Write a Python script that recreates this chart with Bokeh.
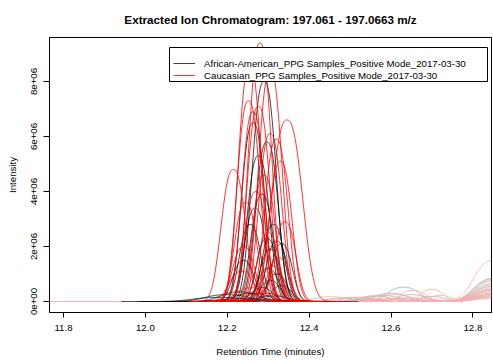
import numpy as np
from bokeh.plotting import figure
from bokeh.models import Range1d, FixedTicker, Legend, LegendItem
from bokeh.embed import file_html
from bokeh.resources import INLINE

# ---------------- data ----------------
title_text = "Extracted Ion Chromatogram: 197.061 - 197.0663 m/z"
x_label = "Retention Time (minutes)"
y_label = "Intensity"
group_labels = ["African-American_PPG Samples_Positive Mode_2017-03-30",
                "Caucasian_PPG Samples_Positive Mode_2017-03-30"]

x_ticks = [11.8, 12.0, 12.2, 12.4, 12.6, 12.8]
x_tick_labels = ["11.8", "12.0", "12.2", "12.4", "12.6", "12.8"]
y_ticks = [0, 2e6, 4e6, 6e6, 8e6]
y_tick_labels = ["0e+00", "2e+06", "4e+06", "6e+06", "8e+06"]

rt_window = [11.7658, 12.8454]          # minutes
intensity_window = [-0.4e6, 9.6e6]

# African-American samples: main peak apex (min), height (1e6), width (min)
aa_rt = [12.290, 12.263, 12.297, 12.276, 12.285, 12.256, 12.313, 12.297, 12.321, 12.333,
         12.305, 12.321, 12.305, 12.285, 12.333, 12.268, 12.240, 12.300, 12.230, 12.200,
         12.260, 12.180, 12.310, 12.250]
aa_height = [8.0, 6.5, 5.8, 5.3, 3.9, 2.8, 2.8, 2.3, 2.2, 2.1,
             1.9, 1.0, 0.76, 0.5, 0.58, 3.4, 1.5, 1.2, 0.35, 0.25,
             0.30, 0.15, 0.20, 0.10]
aa_width = [0.038, 0.036, 0.036, 0.035, 0.035, 0.034, 0.034, 0.033, 0.033, 0.033,
            0.032, 0.032, 0.032, 0.035, 0.032, 0.034, 0.034, 0.033, 0.060, 0.070,
            0.055, 0.080, 0.050, 0.090]

# Caucasian samples: main peak apex (min), height (1e6), width (min)
c_rt = [12.280, 12.255, 12.305, 12.252, 12.276, 12.263, 12.305, 12.346, 12.215, 12.320,
        12.330, 12.290, 12.270, 12.341, 12.300, 12.245, 12.325, 12.235, 12.260, 12.290,
        12.240, 12.310]
c_height = [9.4, 8.6, 8.4, 7.3, 7.1, 6.9, 6.1, 6.6, 4.8, 5.9,
            5.1, 4.6, 4.0, 2.9, 2.5, 3.6, 1.6, 1.1, 0.5, 0.3,
            2.0, 1.3]
c_width = [0.036, 0.036, 0.037, 0.036, 0.036, 0.035, 0.036, 0.048, 0.038, 0.036,
           0.036, 0.035, 0.035, 0.034, 0.034, 0.035, 0.034, 0.040, 0.050, 0.060,
           0.035, 0.034]

# late, low-level signal (drawn light): bump apex, bump height (1e6), bump width, height at window end (1e6)
aa_late_rt = [12.630, 12.600, 12.560, 12.650, 12.520, 12.700, 12.480, 12.620, 12.580, 12.540]
aa_late_height = [0.52, 0.30, 0.20, 0.25, 0.15, 0.18, 0.12, 0.10, 0.22, 0.08]
aa_late_width = [0.050, 0.050, 0.050, 0.045, 0.050, 0.040, 0.050, 0.060, 0.050, 0.050]
aa_edge_height = [0.84, 0.75, 0.65, 0.55, 0.45, 0.40, 0.30, 0.25, 0.20, 0.15]

c_late_rt = [12.700, 12.655, 12.610, 12.560, 12.500, 12.720, 12.680, 12.450, 12.590, 12.640]
c_late_height = [0.44, 0.40, 0.25, 0.20, 0.15, 0.22, 0.12, 0.18, 0.10, 0.14]
c_late_width = [0.035, 0.040, 0.050, 0.050, 0.050, 0.035, 0.040, 0.050, 0.050, 0.045]
c_edge_height = [1.50, 0.80, 0.60, 0.50, 0.40, 0.35, 0.28, 0.22, 0.15, 0.10]
edge_rt = 12.85
edge_width = 0.06

# ---------------- layout constants (pixels) ----------------
W, H = 493, 361
FRAME_L, FRAME_R, FRAME_T, FRAME_B = 49, 491, 37, 312
LEG_L, LEG_R, LEG_T, LEG_B = 169, 487, 47, 81

# ---------------- drawing ----------------
SHAPE = 2.5
t = np.linspace(rt_window[0], rt_window[1], 900)


def peak(tt, rt, h, w):
    return h * 1e6 * np.exp(-np.abs((tt - rt) / w) ** SHAPE)


def px_to_x(px):
    return rt_window[0] + (px - FRAME_L) / (FRAME_R - FRAME_L) * (rt_window[1] - rt_window[0])


def px_to_y(py):
    return intensity_window[0] + (FRAME_B - py) / (FRAME_B - FRAME_T) * (intensity_window[1] - intensity_window[0])


FONT = "Liberation Sans"
p = figure(frame_width=FRAME_R - FRAME_L, frame_height=FRAME_B - FRAME_T,
           output_backend="svg", toolbar_location=None,
           x_range=Range1d(*rt_window), y_range=Range1d(*intensity_window),
           min_border_left=FRAME_L, min_border_right=W - FRAME_R,
           min_border_top=FRAME_T, min_border_bottom=H - FRAME_B)
p.background_fill_color = "white"
p.border_fill_color = "white"
p.outline_line_color = "black"
p.outline_line_width = 1
p.xgrid.visible = False
p.ygrid.visible = False

# light low-level traces
for rt, h, w, e in zip(aa_late_rt, aa_late_height, aa_late_width, aa_edge_height):
    y = peak(t, rt, h, w) + peak(t, edge_rt, e, edge_width)
    p.line(t, y, line_color="#b3b3b3", line_width=1)
for rt, h, w, e in zip(c_late_rt, c_late_height, c_late_width, c_edge_height):
    y = peak(t, rt, h, w) + peak(t, edge_rt, e, edge_width)
    p.line(t, y, line_color="#ffb0b0", line_width=1)

# main peaks
aa_renderers = []
for rt, h, w in zip(aa_rt, aa_height, aa_width):
    tt = t[np.abs(t - rt) <= 3 * w]
    aa_renderers.append(p.line(tt, peak(tt, rt, h, w), line_color="black", line_alpha=0.75, line_width=1))
c_renderers = []
for rt, h, w in zip(c_rt, c_height, c_width):
    tt = t[np.abs(t - rt) <= 3 * w]
    c_renderers.append(p.line(tt, peak(tt, rt, h, w), line_color="red", line_alpha=0.8, line_width=1))

# legend frame (white box with border, on top of the curves)
p.quad(left=[px_to_x(LEG_L)], right=[px_to_x(LEG_R)], top=[px_to_y(LEG_T)], bottom=[px_to_y(LEG_B)],
       fill_color="white", line_color="black", line_width=1)

# axes
for ax in (p.xaxis[0], p.yaxis[0]):
    ax.major_tick_in = 0
    ax.minor_tick_line_color = None
    ax.axis_line_color = "black"
    ax.major_tick_line_color = "black"
    ax.major_label_text_font = FONT
    ax.major_label_text_font_size = "9.7px"
    ax.major_label_text_color = "black"
    ax.axis_label_text_font = FONT
    ax.axis_label_text_font_size = "9.7px"
    ax.axis_label_text_font_style = "normal"
    ax.axis_label_text_color = "black"

p.xaxis.ticker = FixedTicker(ticks=x_ticks)
p.xaxis.major_label_overrides = dict(zip(x_ticks, x_tick_labels))
p.xaxis.major_tick_out = 5
p.xaxis.major_label_standoff = 7
p.xaxis.axis_label = x_label
p.xaxis.axis_label_standoff = 12

p.yaxis.ticker = FixedTicker(ticks=y_ticks)
p.yaxis.major_label_overrides = dict(zip(y_ticks, y_tick_labels))
p.yaxis.major_tick_out = 6
p.yaxis.major_label_standoff = 7
p.yaxis.major_label_orientation = "vertical"
p.yaxis.axis_label = y_label
p.yaxis.axis_label_standoff = 10

# title
p.title.text = title_text
p.title.align = "center"
p.title.vertical_align = "top"
p.title.text_font = FONT
p.title.text_font_size = "11.7px"
p.title.text_font_style = "bold"
p.title.text_color = "black"
p.title.standoff = 19

# legend (entries only; frame drawn above)
legend = Legend(items=[LegendItem(label=group_labels[0], renderers=[aa_renderers[0]]),
                       LegendItem(label=group_labels[1], renderers=[c_renderers[0]])],
                location=(LEG_L - FRAME_L + 4, FRAME_B - LEG_B), orientation="vertical")
legend.label_text_font = FONT
legend.label_text_font_size = "9.7px"
legend.label_text_color = "black"
legend.label_height = 12
legend.glyph_height = 12
legend.glyph_width = 22
legend.label_standoff = 9
legend.padding = 5
legend.spacing = 0
legend.margin = 0
legend.border_line_color = None
legend.background_fill_alpha = 0.0
p.add_layout(legend, "center")

open("out.html", "w").write(file_html(p, INLINE))
